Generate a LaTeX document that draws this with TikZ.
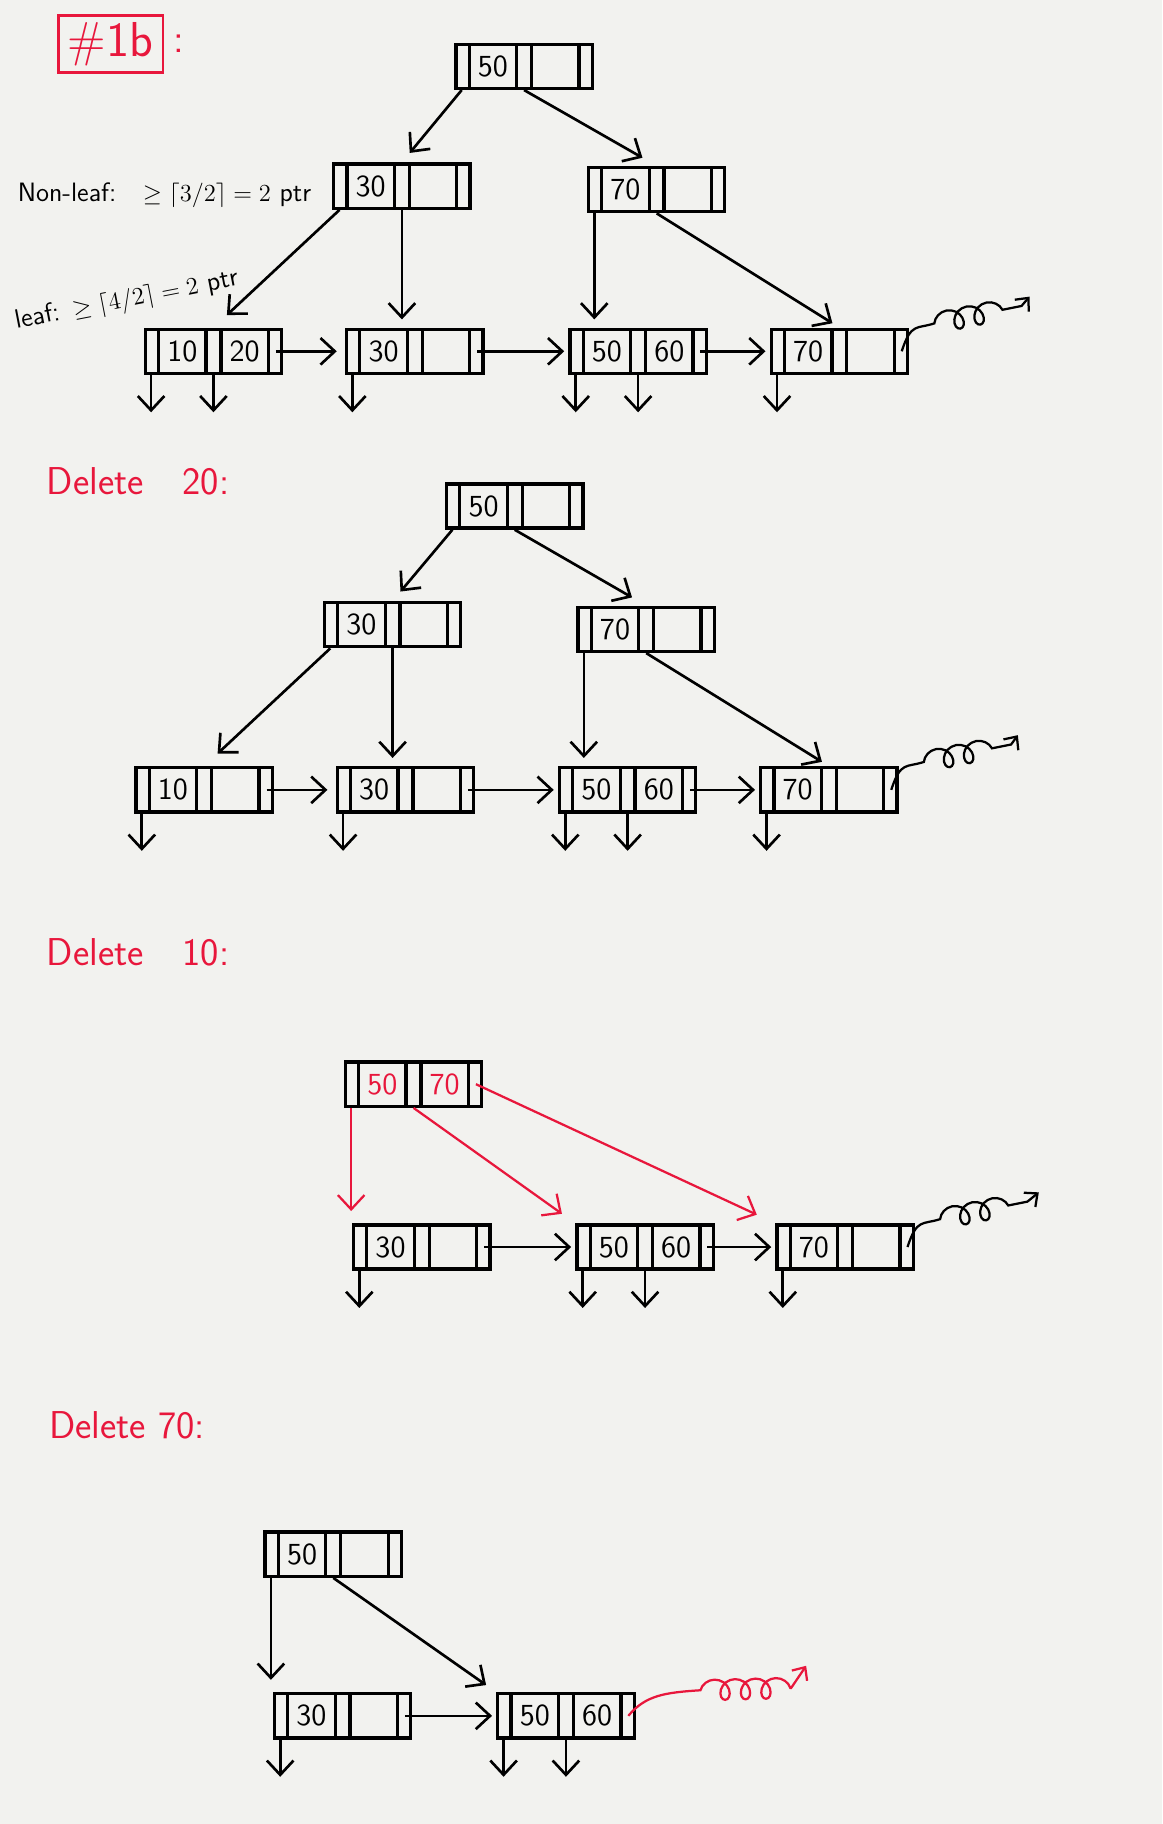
\documentclass[tikz,border=0pt]{standalone}
\usepackage{tikz}
\usetikzlibrary{shapes.multipart,arrows.meta,positioning,decorations.pathmorphing}
\definecolor{penred}{HTML}{E8173C}
\definecolor{paper}{HTML}{F2F2EF}
\newcommand{\ps}{\makebox[0.2cm]{\rule[-0.2cm]{0pt}{0.76cm}}}
\newcommand{\ks}[1]{\makebox[0.76cm]{#1}}
\newcommand{\bkeys}[2]{\ps\nodepart{two}\ks{#1}\nodepart{three}\ps\nodepart{four}\ks{#2}\nodepart{five}\ps}
\begin{document}
\begin{tikzpicture}[x=0.02cm, y=-0.02cm,
    bnode/.style={draw, line width=1.6pt, rectangle split, rectangle split horizontal,
                  rectangle split parts=5, inner sep=0pt, font=\sffamily\fontsize{15}{15}\selectfont},
    ptr/.style={line width=1.3pt, -{Straight Barb[length=7pt,width=13pt]}},
    redptr/.style={ptr, penred, line width=1.1pt},
    heading/.style={anchor=west, inner sep=0pt, text=penred, font=\sffamily\fontsize{19}{19}\selectfont},
    note/.style={anchor=west, inner sep=0pt, font=\sffamily\fontsize{13}{13}\selectfont},
    curl/.style={line width=1.1pt, -{Straight Barb[length=5pt,width=9pt]},
                 decoration={coil, aspect=0.9, amplitude=5pt, segment length=10pt}}]
    \fill[paper] (0,0) rectangle (999,1568);
    \useasboundingbox (0,0) rectangle (999,1568);

    \node[draw=penred, text=penred, line width=1.3pt, minimum width=1.8cm, minimum height=0.94cm,
          font=\sffamily\fontsize{24}{24}\selectfont] (title) at (95,38) {\#1b};
    \node[text=penred, font=\sffamily\fontsize{20}{20}\selectfont, right=1pt of title] (colon) {:};

    % original tree
    \node[note] (nonleaf) at (15,168) {Non-leaf:\quad $\geq\lceil 3/2\rceil=2$ ptr};
    \node[note, anchor=south west, rotate=11] (leafnote) at (15,288) {leaf:\enspace $\geq\lceil 4/2\rceil=2$ ptr};
    \node[bnode] (r1) at (450.5,57) {\bkeys{50}{}};
    \node[bnode] (n11) at (345.5,160) {\bkeys{30}{}};
    \node[bnode] (n12) at (564.5,163) {\bkeys{70}{}};
    \node[bnode] (l11) at (183.5,302) {\bkeys{10}{20}};
    \node[bnode] (l12) [right=1.06cm of l11] {\bkeys{30}{}};
    \node[bnode] (l13) [right=1.44cm of l12] {\bkeys{50}{60}};
    \node[bnode] (l14) [right=1.06cm of l13] {\bkeys{70}{}};
    \coordinate (c1) at (885,255);
    \draw[ptr, shorten >=6pt] (r1.one south) -- (n11.north);
    \draw[ptr, shorten >=8pt] (r1.three south) -- (n12.north);
    \draw[ptr, shorten >=9pt] (n11.one south) -- (l11.north);
    \draw[ptr, shorten >=4pt] (n11.three south) -- (n11.three south |- l12.north);
    \draw[ptr, shorten >=4pt] (n12.one south) -- (n12.one south |- l13.north);
    \draw[ptr, shorten >=4pt] (n12.three south) -- (l14.north);
    \draw[ptr, shorten >=4pt] (l11.five north |- l11.center) -- (l12.west);
    \draw[ptr, shorten >=2pt] (l12.five north |- l12.center) -- (l13.west);
    \draw[ptr, shorten >=2pt] (l13.five north |- l13.center) -- (l14.west);
    \foreach \a in {l11.one south, l11.three south, l12.one south, l13.one south, l13.three south, l14.one south}
        \draw[ptr] (\a) -- ++(0,32);
    \draw[curl] (l14.five north |- l14.center) .. controls +(8,-25) and +(-15,5) .. ++(28,-24)
        decorate {-- ++(75,-15)} -- (c1);

    % delete 20
    \node[heading] (h2) at (40,414) {Delete\quad 20:};
    \node[bnode] (r2) at (442.5,435) {\bkeys{50}{}};
    \node[bnode] (n21) at (337.5,537) {\bkeys{30}{}};
    \node[bnode] (n22) at (555.5,541) {\bkeys{70}{}};
    \node[bnode] (l21) at (175.5,679) {\bkeys{10}{}};
    \node[bnode] (l22) [right=1.06cm of l21] {\bkeys{30}{}};
    \node[bnode] (l23) [right=1.42cm of l22] {\bkeys{50}{60}};
    \node[bnode] (l24) [right=1.06cm of l23] {\bkeys{70}{}};
    \coordinate (c2) at (875,632);
    \draw[ptr, shorten >=6pt] (r2.one south) -- (n21.north);
    \draw[ptr, shorten >=8pt] (r2.three south) -- (n22.north);
    \draw[ptr, shorten >=9pt] (n21.one south) -- (l21.north);
    \draw[ptr, shorten >=4pt] (n21.three south) -- (n21.three south |- l22.north);
    \draw[ptr, shorten >=4pt] (n22.one south) -- (n22.one south |- l23.north);
    \draw[ptr, shorten >=4pt] (n22.three south) -- (l24.north);
    \draw[ptr, shorten >=4pt] (l21.five north |- l21.center) -- (l22.west);
    \draw[ptr, shorten >=2pt] (l22.five north |- l22.center) -- (l23.west);
    \draw[ptr, shorten >=2pt] (l23.five north |- l23.center) -- (l24.west);
    \foreach \a in {l21.one south, l22.one south, l23.one south, l23.three south, l24.one south}
        \draw[ptr] (\a) -- ++(0,32);
    \draw[curl] (l24.five north |- l24.center) .. controls +(8,-25) and +(-15,5) .. ++(28,-24)
        decorate {-- ++(75,-15)} -- (c2);

    % delete 10
    \node[heading] (h3) at (40,819) {Delete\quad 10:};
    \node[bnode] (r3) at (355.5,932) {\bkeys{\color{penred}50}{\color{penred}70}};
    \node[bnode] (l31) at (362.5,1072) {\bkeys{30}{}};
    \node[bnode] (l32) [right=1.44cm of l31] {\bkeys{50}{60}};
    \node[bnode] (l33) [right=1.04cm of l32] {\bkeys{70}{}};
    \coordinate (c3) at (893,1025);
    \draw[redptr, shorten >=6pt] (r3.one south) -- (r3.one south |- l31.north);
    \draw[redptr, shorten >=8pt] (r3.three south) -- (l32.north west);
    \draw[redptr, shorten >=10pt] (r3.five north |- r3.center) -- (l33.north west);
    \draw[ptr, shorten >=2pt] (l31.five north |- l31.center) -- (l32.west);
    \draw[ptr, shorten >=2pt] (l32.five north |- l32.center) -- (l33.west);
    \foreach \a in {l31.one south, l32.one south, l32.three south, l33.one south}
        \draw[ptr] (\a) -- ++(0,32);
    \draw[curl] (l33.five north |- l33.center) .. controls +(8,-25) and +(-15,5) .. ++(28,-24)
        decorate {-- ++(75,-15)} -- (c3);

    % delete 70
    \node[heading] (h4) at (42,1225) {Delete 70:};
    \node[bnode] (r4) at (286.5,1336) {\bkeys{50}{}};
    \node[bnode] (l41) at (294.5,1475) {\bkeys{30}{}};
    \node[bnode] (l42) [right=1.44cm of l41] {\bkeys{50}{60}};
    \coordinate (c4) at (693,1432);
    \draw[ptr, shorten >=6pt] (r4.one south) -- (r4.one south |- l41.north);
    \draw[ptr, shorten >=6pt] (r4.three south) -- (l42.north west);
    \draw[ptr, shorten >=2pt] (l41.five north |- l41.center) -- (l42.west);
    \foreach \a in {l41.one south, l42.one south, l42.three south}
        \draw[ptr] (\a) -- ++(0,32);
    \draw[curl, penred] (l42.five north |- l42.center) .. controls +(15,-18) and +(-30,2) .. ++(62,-22)
        decorate {-- ++(78,-2)} -- (c4);
\end{tikzpicture}
\end{document}
